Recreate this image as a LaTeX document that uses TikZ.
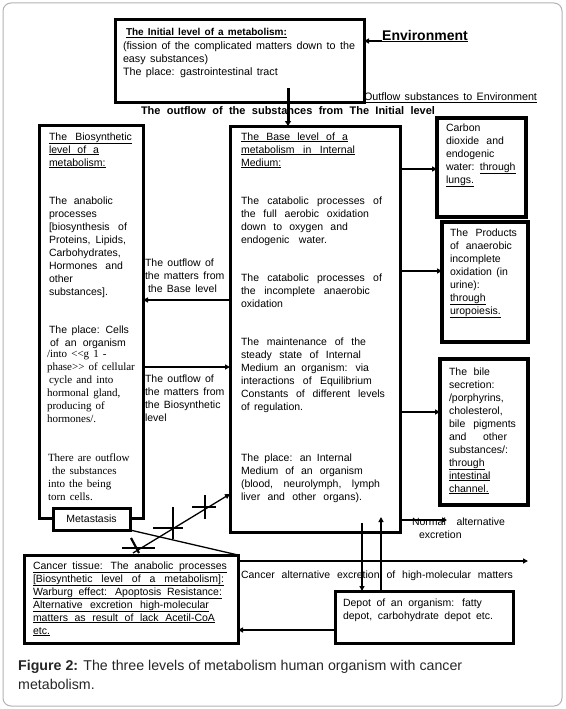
\documentclass[tikz,border=0pt]{standalone}
\usepackage{fontspec}
\setmainfont{Liberation Sans}[WordSpace=1.5]
\newfontfamily\serf{Liberation Serif}[WordSpace=1.5]
\newfontfamily\capfont{Liberation Sans}
\usetikzlibrary{arrows.meta}
\newcommand\J[2]{\makebox[#1pt][s]{#2}}
\newcommand\U[1]{\underline{#1}}
\begin{document}
\begin{tikzpicture}[x=1pt,y=-1pt,
  boxx/.style={draw, line width=3pt, fill=white, anchor=north west, inner sep=0pt, outer sep=0pt},
  txt/.style={anchor=north west, inner sep=0pt, outer sep=0pt, align=left, font=\fontsize{10.5}{13}\selectfont},
  sertxt/.style={txt, font=\serf\fontsize{11}{13}\selectfont},
  conn/.style={line width=2pt, -{Triangle[length=5pt,width=5pt]}},
  linkline/.style={line width=2.2pt},
]
\useasboundingbox (0,0) rectangle (565,709);
\draw[black!30, line width=1pt, rounded corners=8pt] (3,3) rectangle (562,706);

% ---- Initial level
\node[boxx, minimum width=249pt, minimum height=82pt] (init) at (115,20) {};
\node[txt, font=\fontsize{10.75}{13.3}\selectfont] (tinit) at (123,28.5) {\hspace*{3pt}{\bfseries\fontsize{10}{13}\selectfont\U{The Initial level of a metabolism:}}\\(fission of the complicated matters down to the\\easy substances)\\The place: gastrointestinal tract};

\node[anchor=west, inner sep=0pt, font=\bfseries\fontsize{14}{16}\selectfont] (env) at (382,36) {\U{Environment}};
\coordinate (yenv) at (0,41);
\draw[conn] (env.west |- yenv) -- (init.east |- yenv);

\node[txt, font=\fontsize{10.75}{13}\selectfont] (outenv) at (364,92.5) {\U{\J{173}{Outflow substances to Environment}}};
\node[txt, font=\bfseries\fontsize{11}{13}\selectfont] (olabel) at (141,107) {\J{294}{The outflow of the substances from The Initial level}};

% ---- Biosynthetic level
\node[boxx, minimum width=104pt, minimum height=393pt] (bio) at (39,125) {};
\node[txt] (bio1) at (49,132.5) {\U{\J{83}{The Biosynthetic}}\\\U{\J{50}{level of a}}\\\U{metabolism:}};
\node[txt] (bio2) at (49,196.5) {\J{64}{The anabolic}\\processes\\\J{78}{[biosynthesis of}\\\J{77}{Proteins, Lipids,}\\Carbohydrates,\\\J{74}{Hormones and}\\other\\substances].};
\node[txt] (bio3) at (49,325.5) {\J{80}{The place: Cells}\\\hspace*{1pt}\J{76}{of an organism}};
\node[sertxt] (bio4) at (47,350.5) {/into {<}{<}g 1 -\\phase{>}{>} of cellular\\\hspace*{2pt}cycle and into\\hormonal gland,\\producing of\\hormones/.};
\node[sertxt] (bio5) at (48,453.5) {There are outflow\\\hspace*{4pt}the substances\\into the being\\torn cells.};
\node[boxx, anchor=center, minimum width=77pt, minimum height=22pt, font=\fontsize{10.5}{12}\selectfont] (meta) at (91.5,519) {Metastasis};

% ---- Base level
\node[boxx, minimum width=170pt, minimum height=406pt] (base) at (230,126) {};
\node[txt] (base1) at (241,132.5) {\U{\J{107}{The Base level of a}}\\\U{\J{114}{metabolism in Internal}}\\\U{Medium:}};
\node[txt] (base2) at (241,196.5) {\J{141}{The catabolic processes of}\\\J{128}{the full aerobic oxidation}\\\J{107}{down to oxygen and}\\\J{86}{endogenic water.}};
\node[txt] (base3) at (241,273.5) {\J{141}{The catabolic processes of}\\\J{129}{the incomplete anaerobic}\\oxidation};
\node[txt] (base4) at (241,337.5) {\J{125}{The maintenance of the}\\\J{120}{steady state of Internal}\\\J{128}{Medium an organism: via}\\\J{131}{interactions of Equilibrium}\\\J{144}{Constants of different levels}\\of regulation.};
\node[txt] (base5) at (241,453.5) {\J{111}{The place: an Internal}\\\J{122}{Medium of an organism}\\\J{139}{(blood, neurolymph, lymph}\\\J{121}{liver and other organs).}};

\coordinate (vtop) at (288,88);
\draw[line width=3pt, -{Triangle[length=5pt,width=6pt]}] (vtop) -- (vtop |- base.north);

% ---- labels between bio and base
\node[txt] (lab1) at (145,258.5) {The outflow of\\the matters from\\\hspace*{3pt}the Base level};
\node[txt] (lab2) at (145,374.5) {The outflow of\\the matters from\\the Biosynthetic\\level};
\coordinate (y300) at (0,300);
\coordinate (y367) at (0,367);
\draw[conn] (base.west |- y300) -- (bio.east |- y300);
\draw[conn] (bio.east |- y367) -- (base.west |- y367);

% ---- right boxes
\node[boxx, line width=3.5pt, minimum width=89pt, minimum height=99pt] (co2) at (437,118) {};
\node[txt] (co2t) at (446,123.5) {Carbon\\\J{58}{dioxide and}\\endogenic\\water: \U{through}\\\U{lungs.}};
\node[boxx, line width=3.5pt, minimum width=86pt, minimum height=120pt] (prod) at (442,222) {};
\node[txt] (prodt) at (450,228.5) {\J{67}{The Products}\\\J{62}{of anaerobic}\\incomplete\\oxidation (in\\urine):\\\U{through}\\\U{uropoiesis.}};
\node[boxx, line width=3.5pt, minimum width=88pt, minimum height=146pt] (bile) at (440,359) {};
\node[txt] (bilet) at (449,367.5) {\J{41}{The bile}\\secretion:\\/porphyrins,\\cholesterol,\\\J{67}{bile pigments}\\\J{58}{and other}\\substances/:\\\U{through}\\\U{intestinal}\\\U{channel.}};

\coordinate (ya) at (0,169);
\coordinate (yb) at (0,271);
\coordinate (yc) at (0,412);
\draw[conn] (base.east |- ya) -- (co2.west |- ya);
\draw[conn] (base.east |- yb) -- (prod.west |- yb);
\draw[conn] (base.east |- yc) -- (bile.west |- yc);

\coordinate (nend) at (447,520);
\draw[conn] (base.east |- nend) -- (nend);
\node[txt] (normlab) at (412,517.5) {\J{93}{Normal alternative}\\\hspace*{7pt}excretion};

% ---- cancer and depot
\node[boxx, minimum width=214pt, minimum height=88pt] (cancer) at (24,555) {};
\node[txt] (cancert) at (33,561.5) {\U{\J{194}{Cancer tissue: The anabolic processes}}\\\U{\J{191}{[Biosynthetic level of a metabolism]:}}\\\U{\J{189}{Warburg effect: Apoptosis Resistance:}}\\\U{\J{176}{Alternative excretion high-molecular}}\\\U{\J{182}{matters as result of lack Acetil-CoA}}\\\U{etc.}};
\node[boxx, minimum width=178pt, minimum height=52pt] (depot) at (335,591) {};
\node[txt] (depott) at (343,599) {\J{139}{Depot of an organism: fatty}\\\J{150}{depot, carbohydrate depot etc.}};

\coordinate (cend) at (528,561);
\draw[conn] (cancer.east |- cend) -- (cend);
\node[txt] (cancerlab) at (241,570.5) {\J{272}{Cancer alternative excretion of high-molecular matters}};

\coordinate (ydep) at (0,630);
\draw[conn] (depot.west |- ydep) -- (cancer.east |- ydep);

\coordinate (dtop) at (362,523);
\draw[conn] (dtop) -- (dtop |- depot.north);
\coordinate (uend) at (381,517);
\draw[conn] (uend |- depot.north) -- (uend);

% ---- metastasis and blocked arrow
\draw[line width=1.3pt] (meta.south east) -- (cancer.north east);
\coordinate (dgs) at (133,553);
\coordinate (ydg) at (0,494);
\draw[line width=1.3pt, -{Triangle[length=5pt,width=5pt]}] (dgs) -- (base.west |- ydg);
\draw[linkline] (122,548) -- (155,548);
\draw[linkline] (131,538) -- (139,553);
\draw[linkline] (153,528) -- (183,528);
\draw[linkline] (173,507) -- (173,539);
\draw[linkline] (192,507) -- (216,507);
\draw[linkline] (205,495) -- (205,519);

% ---- caption
\node[anchor=north west, inner sep=0pt, align=left, font=\capfont\fontsize{14.2}{19}\selectfont, text=black!85] (cap) at (18,660) {\textbf{Figure 2:} The three levels of metabolism human organism with cancer\\metabolism.};
\end{tikzpicture}
\end{document}
